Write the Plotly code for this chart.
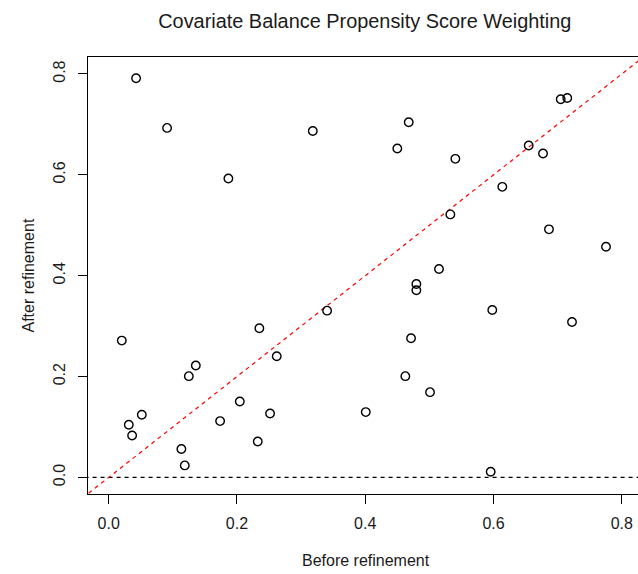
import plotly.graph_objects as go

before = [0.0427, 0.0910, 0.1866, 0.3182, 0.4678, 0.4500, 0.5405, 0.7048, 0.7150, 0.6549,
          0.6772, 0.6137, 0.5327, 0.6865, 0.7754, 0.0204, 0.2349, 0.2620, 0.3405, 0.1358,
          0.1249, 0.2044, 0.1737, 0.2516, 0.0516, 0.0313, 0.0365, 0.1133, 0.1186, 0.2324,
          0.5150, 0.4797, 0.4797, 0.5981, 0.7224, 0.4714, 0.4625, 0.5010, 0.4008, 0.5956]
after = [0.7915, 0.6931, 0.5929, 0.6871, 0.7044, 0.6523, 0.6317, 0.7499, 0.7525, 0.6582,
         0.6424, 0.5762, 0.5216, 0.4919, 0.4574, 0.2713, 0.2958, 0.2404, 0.3307, 0.2218,
         0.2008, 0.1505, 0.1117, 0.1267, 0.1242, 0.1044, 0.0832, 0.0562, 0.0238, 0.0713,
         0.4133, 0.3836, 0.3711, 0.3321, 0.3083, 0.2760, 0.2008, 0.1691, 0.1295, 0.0113]
ticks = [0.0, 0.2, 0.4, 0.6, 0.8]
tick_labels = ["0.0", "0.2", "0.4", "0.6", "0.8"]
xrange_ = [-0.0323, 0.8253]
yrange_ = [-0.0329, 0.8337]

FONT = "Liberation Sans, Arial, Helvetica, sans-serif"
W, H = 638, 574
ML, MT, MB, MR = 88, 57, 80, 0

fig = go.Figure()
# reference lines
fig.add_trace(go.Scatter(x=[-0.1, 1.0], y=[0, 0], mode="lines",
                         line=dict(color="black", width=1.2, dash="4px,4px"),
                         hoverinfo="skip", showlegend=False))
fig.add_trace(go.Scatter(x=[-0.1, 1.0], y=[-0.1, 1.0], mode="lines",
                         line=dict(color="#FF0000", width=1.2, dash="4px,4px"),
                         hoverinfo="skip", showlegend=False))
fig.add_trace(go.Scatter(x=before, y=after, mode="markers",
                         marker=dict(symbol="circle-open", size=8.5, color="black",
                                     line=dict(width=1.4, color="black")),
                         showlegend=False, cliponaxis=False))

axis_common = dict(showgrid=False, zeroline=False, showline=True, linecolor="black",
                   linewidth=1.3, ticks="outside", ticklen=9, tickwidth=1.2,
                   tickcolor="black", tickvals=ticks, ticktext=tick_labels,
                   tickfont=dict(family=FONT, size=16, color="#1a1a1a"))

fig.update_xaxes(range=xrange_, mirror=True, ticklabelstandoff=6, **axis_common)
fig.update_yaxes(range=yrange_, mirror=False, tickangle=-90, ticklabelstandoff=6, **axis_common)

fig.update_layout(
    width=W, height=H,
    margin=dict(l=ML, r=MR, t=MT, b=MB, pad=0),
    paper_bgcolor="white", plot_bgcolor="white",
    title=dict(text="Covariate Balance Propensity Score Weighting",
               font=dict(family=FONT, size=19.9, color="#1a1a1a"),
               xref="paper", x=(364.8 - ML) / (W - ML - MR), xanchor="center",
               yref="container", y=1 - 21 / H, yanchor="middle"),
    annotations=[
        dict(text="Before refinement", xref="paper", yref="paper",
             x=(365.8 - ML) / (W - ML - MR), y=-(560 - (H - MB)) / (H - MT - MB),
             xanchor="center", yanchor="middle", showarrow=False,
             font=dict(family=FONT, size=16, color="#1a1a1a")),
        dict(text="After refinement", xref="paper", yref="paper",
             x=-(ML - 28) / (W - ML - MR), y=0.5, textangle=-90,
             xanchor="center", yanchor="middle", showarrow=False,
             font=dict(family=FONT, size=16, color="#1a1a1a")),
    ],
)

fig.write_html("out.html")
